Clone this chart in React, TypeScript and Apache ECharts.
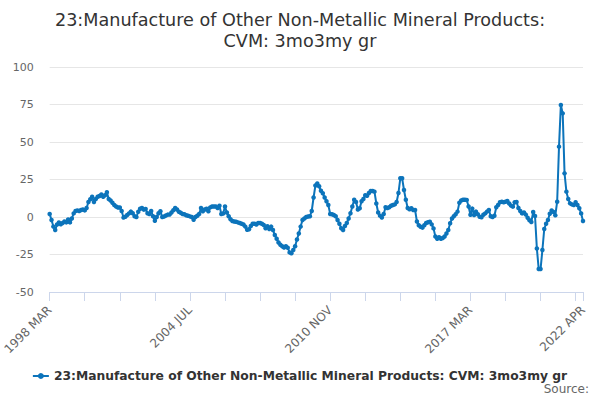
import React, { useEffect, useRef } from "react";
import * as echarts from "echarts";

const TITLE = "23:Manufacture of Other Non-Metallic Mineral Products:\nCVM: 3mo3my gr";
const SERIES_NAME = "23:Manufacture of Other Non-Metallic Mineral Products: CVM: 3mo3my gr";
const SOURCE_TEXT = "Source:";

const MONTHS = ["JAN", "FEB", "MAR", "APR", "MAY", "JUN", "JUL", "AUG", "SEP", "OCT", "NOV", "DEC"];
const START_YEAR = 1998;
const START_MONTH = 2; // MAR (0-based)

const Y_MIN = -50;
const Y_MAX = 100;
const Y_STEP = 25;

// monthly values, 1998 MAR .. 2022 APR
const vals1998to2003 = [
  2, -2, -6.4, -8.7, -5, -3.6, -4.8, -4, -3, -3.6,
  -1.6, -3.6, -1, 2.4, 4, 4.4, 4, 4.7, 5, 4.4,
  6, 10, 11.8, 13.5, 10, 12, 13.5, 14, 15, 13.5,
  14.5, 16.5, 12, 11, 9.5, 8, 7, 6.3, 6.3, 4,
  -0.4, 0.2, 1.3, 2.4, 3.6, 2.5, 0.5, 0, 3.5, 5.5,
  6, 4.9, 5.3, 2.5, 2, 4, 0.5, -2.5, 0, 2.5,
];
const vals2003to2008 = [
  3.8, 0, 0.3, 1, 1.6, 1.6, 3, 4.5, 6, 5,
  3.5, 2.8, 2, 1.8, 1.2, 0.8, 0.4, 0, -1.8, 0,
  0.8, 2, 6, 3.8, 5, 5.5, 3.8, 6.4, 7, 7,
  7, 6, 7.5, 2, 2.3, 7, 3, 0.5, -1.5, -2.7,
  -3, -3.2, -3.6, -4, -4.5, -5, -6.4, -8.5, -8.2, -6,
  -4.5, -4.5, -5, -4, -4, -4.5, -5.3, -7.5, -6.2, -8,
];
const vals2008to2013 = [
  -6.4, -8.7, -12, -14.5, -17, -18.5, -19.5, -20.4, -19.5, -20.5,
  -23.6, -24.2, -22, -19.5, -15, -11, -6.4, -2, -1, 0,
  0.3, 0.5, 4, 13, 21, 22.4, 20.5, 17.5, 15.8, 13,
  10.5, 8, 2, 1.8, 1.3, 0.5, -2, -4.5, -7.5, -8.7,
  -6, -4, -1, 2.5, 7, 11.5, 10, 5, 5.8, 10.5,
  12, 14.5, 14.2, 16, 17.3, 17.3, 16.9, 9, 3, 0.9,
];
const vals2013to2018 = [
  -0.4, 2, 6.5, 6, 6.5, 7.5, 8, 8.4, 10, 16,
  25.8, 25.8, 18, 11.5, 6, 5.1, 5.8, 4.7, 4.7, -3,
  -5.5, -6.5, -7.1, -5.5, -4, -3.5, -3.1, -4.9, -7.6, -13,
  -14.5, -13.5, -14.5, -14, -13, -11, -8.7, -4.2, -1, 0.5,
  1.8, 3.6, 9.5, 11, 11.5, 11.5, 11.3, 7, 1.5, 5.6,
  1.3, 3.6, 1.8, 0.2, -0.2, 1.5, 2.4, 3.6, 4.7, 0.5,
];
const vals2018to2022 = [
  0, 0.8, 6.5, 8, 9.8, 10.2, 9.8, 10.2, 10.7, 9,
  7.6, 6.9, 9.8, 10, 6, 4, 2.4, 3, 1.6, -0.5,
  -2.2, -3.3, 3.3, 0.7, -21, -34.7, -34.7, -22, -8, -4.5,
  -2, 2.2, 4.4, 3.3, 1.1, 10.2, 46.9, 74.7, 69.1, 29.1,
  16.9, 12, 9.1, 8.4, 8, 9.8, 8, 5.8, 2.4, -2.7,
];

const values = [...vals1998to2003, ...vals2003to2008, ...vals2008to2013, ...vals2013to2018, ...vals2018to2022];

const categories = values.map((_, i) => {
  const m = START_MONTH + i;
  return `${START_YEAR + Math.floor(m / 12)} ${MONTHS[m % 12]}`;
});

const LAST = categories.length - 1;
const TICK_EVERY = 19;
const LABEL_EVERY = 76;

const FONT = "DejaVu Sans, Verdana, sans-serif";
const LINE_COLOR = "#0c74bb";
const AXIS_COLOR = "#ccd6eb";
const LEGEND_ICON = "path://M0,3.5 L16,3.5 L16,5.5 L0,5.5 Z M8,1.5 A3,3 0 1,1 7.99,1.5 Z";

export default function App() {
  const ref = useRef<HTMLDivElement>(null);
  useEffect(() => {
    document.body.style.margin = "0";
    if (!ref.current) return;
    const chart = echarts.init(ref.current, null, { renderer: "svg" });
    chart.setOption({
      animation: false,
      textStyle: { fontFamily: FONT },
      title: {
        text: TITLE,
        left: "center",
        top: 4,
        textStyle: { fontSize: 17.6, fontWeight: "normal", color: "#333333", lineHeight: 21, fontFamily: FONT },
      },
      legend: {
        data: [{ name: SERIES_NAME, icon: LEGEND_ICON }],
        left: "center",
        top: 365,
        itemWidth: 16,
        itemHeight: 6,
        itemGap: 10,
        textStyle: { fontSize: 12.3, fontWeight: "bold", color: "#333333", fontFamily: FONT },
      },
      graphic: [
        {
          type: "text",
          right: 11,
          top: 383,
          style: { text: SOURCE_TEXT, fontSize: 12, fill: "#666666", fontFamily: FONT },
        },
      ],
      grid: { left: 47, right: 17, top: 67, bottom: 108 },
      xAxis: {
        type: "category",
        data: categories,
        boundaryGap: false,
        axisLine: { show: true, onZero: false, lineStyle: { color: AXIS_COLOR, width: 1 } },
        axisTick: {
          show: true,
          inside: false,
          length: 9,
          lineStyle: { color: AXIS_COLOR, width: 1 },
          interval: (i: number) => i % TICK_EVERY === 0 || i === LAST,
        },
        axisLabel: {
          rotate: 45,
          fontSize: 12,
          color: "#666666",
          margin: 16,
          fontFamily: FONT,
          interval: (i: number) => i % LABEL_EVERY === 0 || i === LAST,
        },
        splitLine: { show: false },
      },
      yAxis: {
        type: "value",
        min: Y_MIN,
        max: Y_MAX,
        interval: Y_STEP,
        axisLine: { show: false },
        axisTick: { show: false },
        axisLabel: { fontSize: 11, color: "#666666", margin: 16, fontFamily: FONT },
        splitLine: { lineStyle: { color: "#e6e6e6" } },
      },
      series: [
        {
          name: SERIES_NAME,
          type: "line",
          data: values,
          symbol: "circle",
          symbolSize: 4.5,
          showSymbol: true,
          showAllSymbol: true,
          lineStyle: { color: LINE_COLOR, width: 2 },
          itemStyle: { color: LINE_COLOR },
        },
      ],
    });
    return () => chart.dispose();
  }, []);
  return <div ref={ref} style={{ width: 600, height: 400 }} />;
}
